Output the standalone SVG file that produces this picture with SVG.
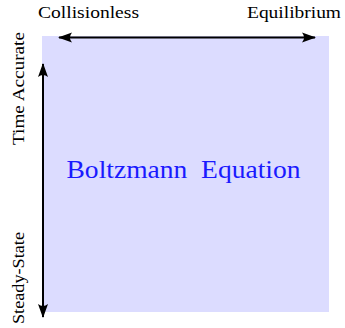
<svg xmlns="http://www.w3.org/2000/svg" width="345" height="328" viewBox="0 0 345 328">
<style>
.lbl{font-family:"Liberation Serif","DejaVu Serif",serif;font-size:16px;fill:#000}
.title{font-family:"Liberation Serif","DejaVu Serif",serif;font-size:25px;fill:#1a1aff}
.arr{stroke:#000;stroke-width:2;fill:none}
</style>
<defs>
<marker id="ah" viewBox="-14 -6 16 12" refX="0" refY="0" markerWidth="16" markerHeight="12" markerUnits="userSpaceOnUse" orient="auto-start-reverse">
<path d="M1,0 L-13,-5 Q-9,0 -13,5 Z" fill="#000"/>
</marker>
</defs>
<g id="domain">
<rect x="42" y="36" width="287" height="276" fill="#dcdcff"/>
<text class="title" x="66.5" y="178" textLength="234" lengthAdjust="spacingAndGlyphs" xml:space="preserve">Boltzmann  Equation</text>
</g>
<g id="collisionless"><text class="lbl" x="38" y="18" textLength="101" lengthAdjust="spacingAndGlyphs">Collisionless</text></g>
<g id="equilibrium"><text class="lbl" x="247" y="18" textLength="94" lengthAdjust="spacingAndGlyphs">Equilibrium</text></g>
<g id="time-accurate"><text class="lbl" transform="translate(24,145) rotate(-90)" textLength="113" lengthAdjust="spacingAndGlyphs">Time Accurate</text></g>
<g id="steady-state"><text class="lbl" transform="translate(24,324) rotate(-90)" textLength="92" lengthAdjust="spacingAndGlyphs">Steady-State</text></g>
<g id="connectors">
<line class="arr" x1="59" y1="37.5" x2="315" y2="37.5" marker-start="url(#ah)" marker-end="url(#ah)"/>
<line class="arr" x1="43" y1="64" x2="43" y2="317" marker-start="url(#ah)" marker-end="url(#ah)"/>
</g>
</svg>
